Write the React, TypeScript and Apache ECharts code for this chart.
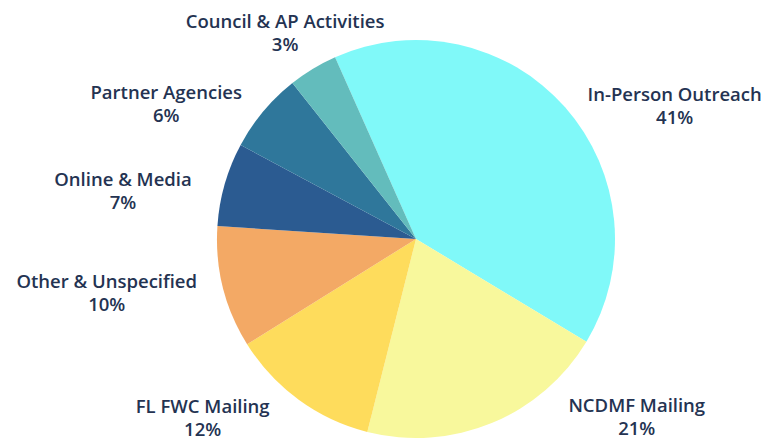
import React, { useEffect, useRef } from "react";
import * as echarts from "echarts";

const categories = [
  "In-Person Outreach",
  "NCDMF Mailing",
  "FL FWC Mailing",
  "Other & Unspecified",
  "Online & Media",
  "Partner Agencies",
  "Council & AP Activities",
];
const values = [40.3, 20.3, 12.2, 9.9, 6.8, 6.5, 4.0];
const percentLabels = ["41%", "21%", "12%", "10%", "7%", "6%", "3%"];

const colors = ["#80F9F9", "#F8F89C", "#FEDC5C", "#F3A965", "#2B5B91", "#2F779B", "#63BCBC"];

// layout
const CX = 416;
const CY = 239;
const R = 199;
const START = 114; // echarts startAngle (deg, ccw from +x)
const LABEL_RY = 212;
const LABEL_R = 224;
const labelShift: [number, number][] = [
  [-3, 6],
  [44, -19],
  [-2, 7],
  [-1, 1],
  [-8, 9],
  [4, 0],
  [100, -26],
];

export default function App() {
  const ref = useRef<HTMLDivElement>(null);
  useEffect(() => {
    if (!ref.current) return;
    const chart = echarts.init(ref.current, undefined, { renderer: "svg" });
    const total = values.reduce((a, b) => a + b, 0);
    const mids: number[] = [];
    let cum = 0;
    const phi0 = 90 - START; // clockwise from top
    values.forEach((v) => {
      mids.push(((phi0 + (360 * (cum + v / 2)) / total) * Math.PI) / 180);
      cum += v;
    });
    chart.setOption({
      animation: false,
      backgroundColor: "#ffffff",
      series: [
        {
          type: "pie",
          center: [CX, CY],
          radius: R,
          startAngle: START,
          clockwise: true,
          silent: true,
          data: categories.map((c, i) => ({
            name: c,
            value: values[i],
            itemStyle: { color: colors[i] },
          })),
          itemStyle: { borderWidth: 0 },
          labelLine: { show: false },
          label: {
            show: true,
            position: "outside",
            overflow: "none",
            formatter: (p: any) => `${p.name}\n${percentLabels[p.dataIndex]}`,
            fontFamily: "Open Sans",
            fontWeight: 600,
            fontSize: 18.5,
            lineHeight: 23,
            color: "#243352",
            align: "center",
          },
          labelLayout: (params: any) => {
            const i = params.dataIndex;
            const phi = mids[i];
            const s = Math.sin(phi);
            const c = Math.cos(phi);
            const w = params.labelRect.width;
            const yc = CY - c * LABEL_RY;
            const dy = yc - CY;
            const half = Math.sqrt(Math.max(LABEL_R * LABEL_R - dy * dy, 0));
            let x;
            if (s >= 0) x = CX + half + w / 2;
            else x = CX - half - w / 2;
            return {
              x: x + labelShift[i][0],
              y: yc + labelShift[i][1],
              align: "center",
              verticalAlign: "middle",
            };
          },
        },
      ],
    });
    return () => chart.dispose();
  }, []);
  return (
    <div
      ref={ref}
      style={{ position: "fixed", left: 0, top: 0, width: 770, height: 440 }}
    />
  );
}
